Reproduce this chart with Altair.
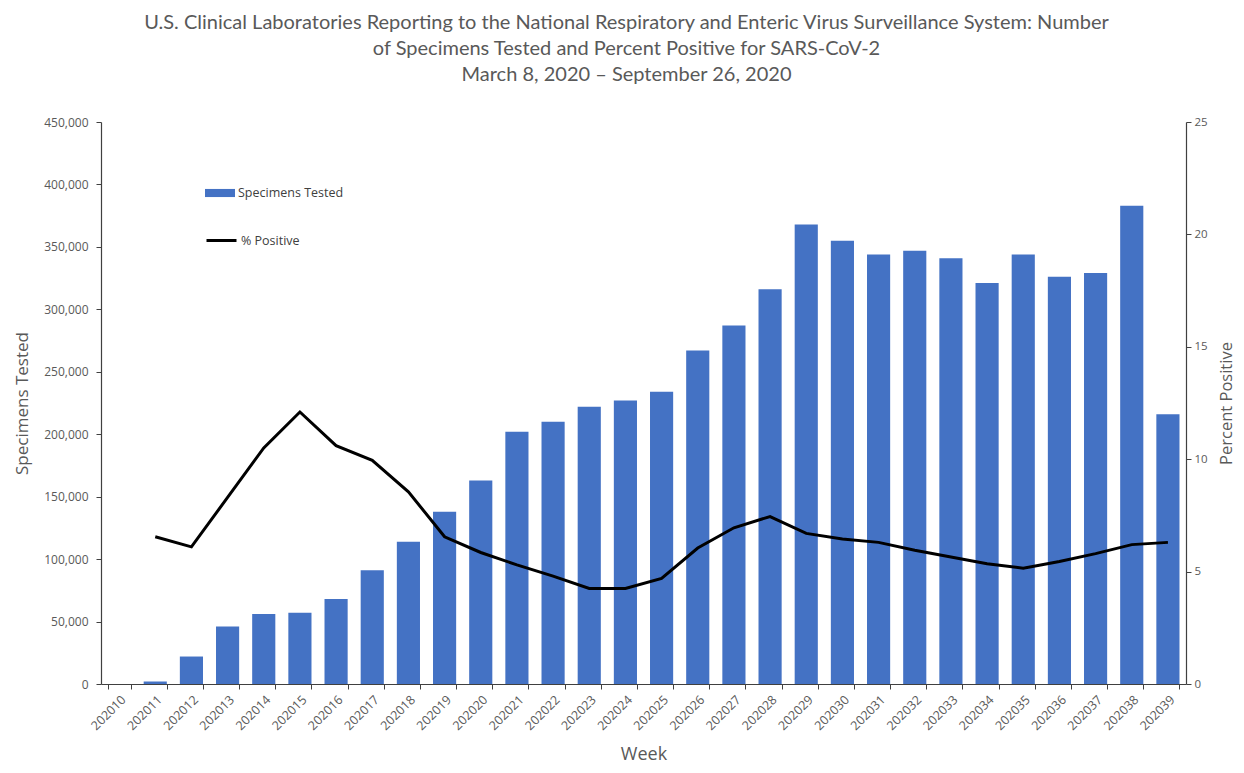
import altair as alt
import pandas as pd

weeks = ["202010", "202011", "202012", "202013", "202014", "202015", "202016",
         "202017", "202018", "202019", "202020", "202021", "202022", "202023",
         "202024", "202025", "202026", "202027", "202028", "202029", "202030",
         "202031", "202032", "202033", "202034", "202035", "202036", "202037",
         "202038", "202039"]
specimens = [0, 2000, 22000, 46000, 56000, 57000, 68000, 91000, 114000, 138000,
             163000, 202000, 210000, 222000, 227000, 234000, 267000, 287000,
             316000, 368000, 355000, 344000, 347000, 341000, 321000, 344000,
             326000, 329000, 383000, 216000]
pct_positive = [None, 6.55, 6.1, 8.3, 10.5, 12.1, 10.6, 9.95, 8.55, 6.55,
                5.85, 5.3, 4.8, 4.25, 4.25, 4.7, 6.05, 6.95, 7.45, 6.7,
                6.45, 6.3, 5.95, 5.65, 5.35, 5.15, 5.45, 5.8, 6.2, 6.3]
left_ticks = [0, 50000, 100000, 150000, 200000, 250000, 300000, 350000, 400000, 450000]
right_ticks = [0, 5, 10, 15, 20, 25]
title_lines = [
    "U.S. Clinical Laboratories Reporting to the National Respiratory and Enteric Virus Surveillance System: Number",
    "of Specimens Tested and Percent Positive for SARS-CoV-2",
    "March 8, 2020 \u2013 September 26, 2020",
]

df = pd.DataFrame({
    "week": weeks,
    "specimens": specimens,
    "pct": pct_positive,
    "bar_series": ["Specimens Tested"] * len(weeks),
    "line_series": ["% Positive"] * len(weeks),
})

GRAY = "#595959"
AXIS = "#404040"

base = alt.Chart(df).encode(
    x=alt.X(
        "week:N",
        sort=weeks,
        scale=alt.Scale(paddingInner=0.36, paddingOuter=0.18),
        axis=alt.Axis(
            title="Week",
            labelAngle=-45,
            tickBand="extent",
            labelFontSize=12.5,
            titleFontSize=18,
            titlePadding=13,
            tickSize=5,
            labelPadding=4,
        ),
    )
)

bars = base.mark_bar().encode(
    y=alt.Y(
        "specimens:Q",
        scale=alt.Scale(domain=[0, 450000], nice=False),
        axis=alt.Axis(
            title="Specimens Tested",
            format=",.0f",
            values=left_ticks,
            labelPadding=8,
            labelFontSize=12,
            titleFontSize=17,
            titlePadding=12,
        ),
    ),
    color=alt.Color(
        "bar_series:N",
        scale=alt.Scale(domain=["Specimens Tested"], range=["#4472C4"]),
        legend=alt.Legend(
            title=None,
            orient="none",
            legendX=104,
            legendY=56,
            symbolType="M-1,-0.27H1V0.27H-1Z",
            symbolSize=900,
            symbolStrokeWidth=0,
            labelOffset=3,
            labelFontSize=12.5,
            labelColor=AXIS,
            padding=0,
        ),
    ),
)

line = base.mark_line(strokeWidth=3).encode(
    y=alt.Y(
        "pct:Q",
        scale=alt.Scale(domain=[0, 25], nice=False),
        axis=alt.Axis(
            orient="right",
            title="Percent Positive",
            values=right_ticks,
            titleAngle=270,
            labelPadding=3,
            titleFontSize=16.5,
            titlePadding=27,
        ),
    ),
    stroke=alt.Stroke(
        "line_series:N",
        scale=alt.Scale(domain=["% Positive"], range=["black"]),
        legend=alt.Legend(
            title=None,
            orient="none",
            legendX=104,
            legendY=102,
            symbolType="stroke",
            symbolSize=900,
            symbolStrokeWidth=3,
            labelOffset=3,
            labelFontSize=12.5,
            labelColor=AXIS,
            padding=0,
        ),
    ),
)

chart = alt.layer(bars, line).resolve_scale(y="independent").properties(
    width=1085,
    height=562,
    autosize=alt.AutoSizeParams(type="none"),
    padding={"left": 93, "top": 114, "right": 50, "bottom": 81},
    title=alt.TitleParams(
        text=title_lines,
        font="Lato",
        fontSize=20,
        fontWeight="normal",
        color=GRAY,
        lineHeight=26,
        anchor="middle",
        dx=-17,
        offset=31,
    ),
).configure_view(stroke=None).configure_axis(
    grid=False,
    labelFont="Open Sans",
    labelColor=GRAY,
    labelFontSize=11.5,
    titleFont="Open Sans",
    titleColor=GRAY,
    titleFontWeight="normal",
    domainColor=AXIS,
    tickColor=AXIS,
    domainWidth=1.2,
    tickSize=5,
).configure_legend(labelFont="Open Sans")

chart.save("out.html", embed_options={"renderer": "svg", "actions": False})
